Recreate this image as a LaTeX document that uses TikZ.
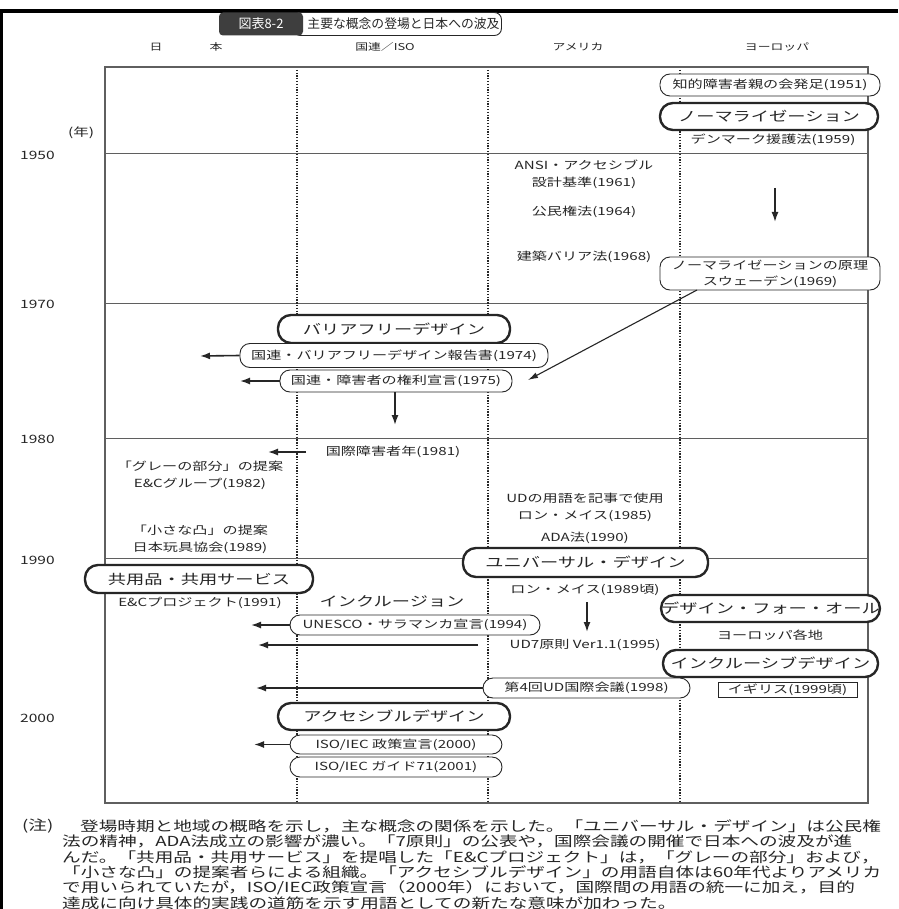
\documentclass[tikz,border=0pt]{standalone}
\usepackage{fontspec}
\usetikzlibrary{arrows.meta,calc}
\newfontfamily\jp[FakeStretch=1.35]{Noto Sans CJK JP}
\newfontfamily\jpt{Noto Sans CJK JP}
\definecolor{ink}{RGB}{38,38,38}
\definecolor{gridc}{RGB}{95,95,95}
\definecolor{darkbox}{RGB}{62,62,62}
\begin{document}
\begin{tikzpicture}[x=1pt,y=-1pt,
 lab/.style={font=\jp\fontsize{11.2}{17}\selectfont,text=ink,inner sep=0pt,align=center},
 sbox/.style={draw=ink,line width=0.9pt,rounded corners=10pt,fill=white,font=\jp\fontsize{11.2}{16}\selectfont,text=ink,inner sep=0pt,align=center},
 bbox/.style={draw=ink,line width=2.4pt,rounded corners=13pt,fill=white,font=\jp\fontsize{13.5}{15}\selectfont,text=ink,inner sep=0pt},
 arr/.style={draw=ink,line width=1.6pt,-{Latex[length=10pt,width=7pt]}},
 thinarr/.style={draw=ink,line width=1.1pt,-{Latex[length=10pt,width=6pt]}},
 framel/.style={draw=gridc,line width=1.5pt},
 hl/.style={draw=gridc,line width=1pt},
 dl/.style={draw=ink,line width=1.6pt,dash pattern=on 1.3pt off 1.5pt},
 hdr/.style={font=\jp\fontsize{9.5}{11}\selectfont,text=ink,inner sep=0pt},
 yr/.style={font=\jp\fontsize{11.5}{13}\selectfont,text=ink,inner sep=0pt,anchor=west},
 notel/.style={font=\jp\fontsize{13.8}{16}\selectfont,text=ink,inner sep=0pt,anchor=west}
]
\useasboundingbox (0,0) rectangle (898,909);
\fill[white] (0,0) rectangle (898,909);
\fill[black] (0,9) rectangle (898,13);
\fill[black] (0,9) rectangle (3,909);

% title
\node[draw=ink,line width=0.9pt,rounded corners=7pt,fill=white,minimum width=208pt,minimum height=23pt,inner sep=0pt,font=\jpt\fontsize{12.8}{15}\selectfont,text=ink,anchor=west] (ttl) at (293,24) {\hspace{12pt}主要な概念の登場と日本への波及};
\node[fill=darkbox,text=white,rounded corners=4pt,minimum width=84pt,minimum height=23pt,inner sep=0pt,font=\jpt\fontsize{13}{15}\selectfont] (tnum) at (261,24) {図表8-2};

% headers
\node[hdr] (h1) at (156,47) {日};
\node[hdr] (h2) at (216,47) {本};
\node[hdr] (h3) at (385,47) {国連／ISO};
\node[hdr] (h4) at (578,47) {アメリカ};
\node[hdr] (h5) at (777,47) {ヨーロッパ};

% years
\node[yr] (ynen) at (68,133) {(年)};
\node[yr] (y50) at (20,155) {1950};
\node[yr] (y70) at (20,304) {1970};
\node[yr] (y80) at (20,439) {1980};
\node[yr] (y90) at (20,560) {1990};
\node[yr] (y00) at (20,718) {2000};

% grid
\draw[hl] (105,154) -- (868,154);
\draw[hl] (105,303) -- (868,303);
\draw[hl] (105,438) -- (868,438);
\draw[hl] (105,558) -- (868,558);
\draw[dl] (297,67) -- (297,803);
\draw[dl] (488,67) -- (488,803);
\draw[dl] (680,67) -- (680,803);
\draw[framel] (105,67) rectangle (868,803);

% Europe
\node[sbox,minimum width=220pt,minimum height=22pt] (oya) at (770,85) {知的障害者親の会発足(1951)};
\node[bbox,minimum width=218pt,minimum height=27pt] (norm) at (769,116.5) {ノーマライゼーション};
\node[lab] (den) at (773,140) {デンマーク援護法(1959)};
\coordinate (ea1) at (775,188);
\coordinate (ea2) at (775,222);
\draw[arr] (ea1) -- (ea2);
\node[sbox,minimum width=220pt,minimum height=33pt] (swe) at (770,273.5) {ノーマライゼーションの原理\\スウェーデン(1969)};

% America 60s
\node[lab] (ansi) at (584,174) {ANSI・アクセシブル\\設計基準(1961)};
\node[lab] (civil) at (584,212) {公民権法(1964)};
\node[lab] (arch) at (584,257) {建築バリア法(1968)};

% 1970s
\node[bbox,minimum width=232pt,minimum height=28pt] (bf) at (394,329) {バリアフリーデザイン};
\node[sbox,minimum width=308pt,minimum height=24pt] (unbf) at (394,355.5) {国連・バリアフリーデザイン報告書(1974)};
\node[sbox,minimum width=232pt,minimum height=22pt] (undec) at (396,381) {国連・障害者の権利宣言(1975)};
\coordinate (a1) at (200,356);
\draw[arr] (unbf.west) -- (a1);
\coordinate (a2) at (240,381);
\draw[arr] (undec.west) -- (a2);
\coordinate (d1) at (697,290);
\coordinate (d2) at (528,380);
\draw[thinarr] (d1) -- (d2);
\coordinate (a3) at (395,425);
\draw[arr] (undec.south -| a3) -- (a3);

% 1980s
\node[lab] (iyd) at (393,452) {国際障害者年(1981)};
\coordinate (a4s) at (306,452);
\coordinate (a4) at (268,452);
\draw[arr] (a4s) -- (a4);
\node[lab] (gray) at (200,475) {「グレーの部分」の提案\\E\&Cグループ(1982)};
\node[lab] (bump) at (200,539) {「小さな凸」の提案\\日本玩具協会(1989)};
\node[lab] (udw) at (585,507.5) {UDの用語を記事で使用\\ロン・メイス(1985)};
\node[lab] (ada) at (585,538) {ADA法(1990)};

% 1990s
\node[bbox,minimum width=245pt,minimum height=29pt] (ud) at (585.5,562.5) {ユニバーサル・デザイン};
\node[bbox,minimum width=228pt,minimum height=28pt] (kyo) at (199,579) {共用品・共用サービス};
\node[lab] (ec) at (200,603) {E\&Cプロジェクト(1991)};
\node[lab,font=\jp\fontsize{13.5}{15}\selectfont] (incl) at (392,601) {インクルージョン};
\node[lab] (ron) at (585,590) {ロン・メイス(1989頃)};
\coordinate (a5s) at (587,602);
\coordinate (a5) at (587,632);
\draw[arr] (a5s) -- (a5);
\node[bbox,minimum width=215pt,minimum height=27pt] (dfa) at (770.5,608.5) {デザイン・フォー・オール};
\node[lab] (eu) at (770,635) {ヨーロッパ各地};
\node[sbox,minimum width=250pt,minimum height=20pt] (unesco) at (415,625) {UNESCO・サラマンカ宣言(1994)};
\coordinate (a6) at (251,625);
\draw[arr] (unesco.west) -- (a6);
\node[lab] (ud7) at (585,645) {UD7原則 Ver1.1(1995)};
\coordinate (a7s) at (478,645);
\coordinate (a7) at (258,645);
\draw[arr] (a7s) -- (a7);
\node[bbox,minimum width=215pt,minimum height=27pt] (incd) at (770.5,663.5) {インクルーシブデザイン};
\node[sbox,minimum width=207pt,minimum height=20pt] (conf) at (586.5,688) {第4回UD国際会議(1998)};
\coordinate (a8) at (256,688);
\draw[arr] (conf.west) -- (a8);
\node[draw=ink,line width=0.9pt,fill=white,minimum width=139pt,minimum height=15pt,inner sep=0pt,font=\jp\fontsize{11.2}{13}\selectfont,text=ink] (uk) at (787.5,689.5) {イギリス(1999頃)};

% 2000s
\node[bbox,minimum width=232pt,minimum height=27pt] (acc) at (394,716.5) {アクセシブルデザイン};
\node[sbox,minimum width=212pt,minimum height=19pt] (isop) at (396,744.5) {ISO/IEC 政策宣言(2000)};
\node[sbox,minimum width=212pt,minimum height=20pt] (isog) at (396,767) {ISO/IEC ガイド71(2001)};
\coordinate (a9) at (254,744.5);
\draw[arr] (isop.west) -- (a9);

% note
\node[notel] (n0) at (22,826) {(注)};
\node[notel] (n1) at (80,826) {登場時期と地域の概略を示し，主な概念の関係を示した。「ユニバーサル・デザイン」は公民権};
\node[notel] (n2) at (62,841.5) {法の精神，ADA法成立の影響が濃い。「7原則」の公表や，国際会議の開催で日本への波及が進};
\node[notel] (n3) at (62,857) {んだ。「共用品・共用サービス」を提唱した「E\&Cプロジェクト」は，「グレーの部分」および，};
\node[notel] (n4) at (62,872.5) {「小さな凸」の提案者らによる組織。「アクセシブルデザイン」の用語自体は60年代よりアメリカ};
\node[notel] (n5) at (62,888) {で用いられていたが，ISO/IEC政策宣言（2000年）において，国際間の用語の統一に加え，目的};
\node[notel] (n6) at (62,903) {達成に向け具体的実践の道筋を示す用語としての新たな意味が加わった。};
\end{tikzpicture}
\end{document}
